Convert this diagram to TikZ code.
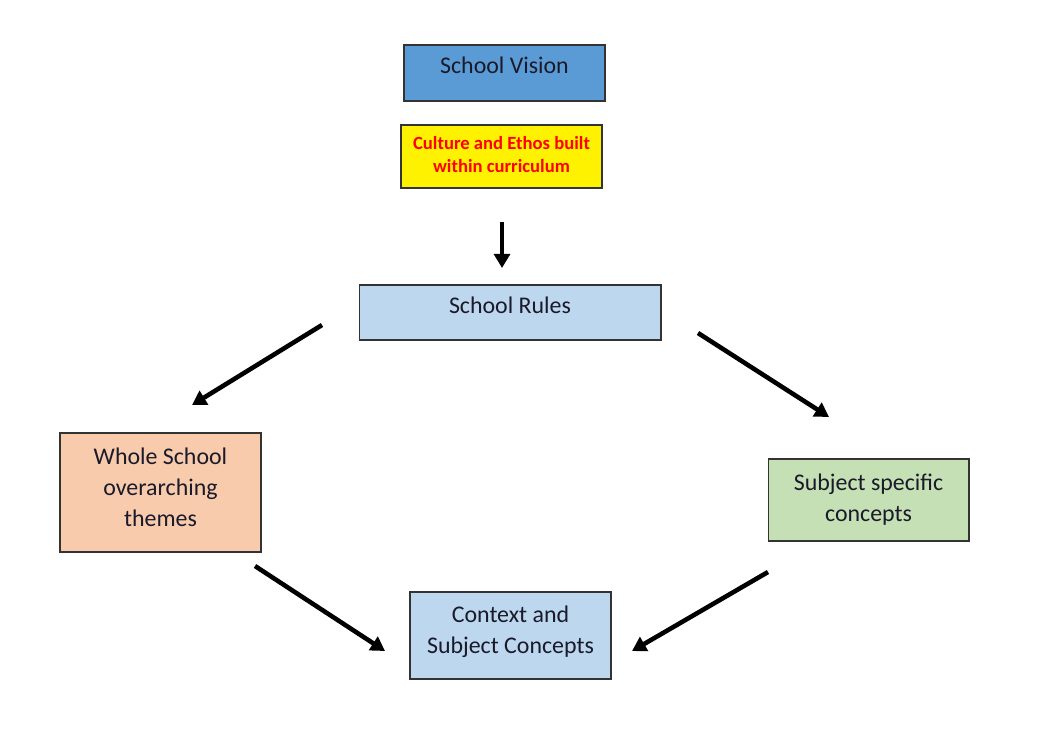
\documentclass[tikz,border=0pt]{standalone}
\usepackage{fontspec}
\setmainfont{Carlito}
\usetikzlibrary{arrows.meta, positioning}

\definecolor{visblue}{HTML}{5B9BD5}
\definecolor{paleblue}{HTML}{BDD7EE}
\definecolor{peach}{HTML}{F8CBAD}
\definecolor{palegreen}{HTML}{C5E0B4}
\definecolor{inktext}{HTML}{1A1A2A}

\begin{document}
\begin{tikzpicture}[
  x=0.02cm, y=-0.02cm,
  box/.style={draw=black!80, line width=0.6pt, align=center, text=inktext,
              font=\fontsize{13.6}{17.6}\selectfont, inner sep=0pt},
  vision/.style={box, fill=visblue, minimum width=4.02cm, minimum height=1.12cm},
  ethos/.style={box, fill=yellow, text=red, minimum width=4.02cm, minimum height=1.26cm,
                font=\fontsize{10.6}{13.6}\selectfont\bfseries},
  rules/.style={box, fill=paleblue, minimum width=6.04cm, minimum height=1.10cm},
  theme/.style={box, fill=peach, minimum width=4.02cm, minimum height=2.38cm},
  subj/.style={box, fill=palegreen, minimum width=4.02cm, minimum height=1.64cm},
  ctx/.style={box, fill=paleblue, minimum width=4.02cm, minimum height=1.74cm},
  arr/.style={-{Triangle[length=8pt, width=9pt]}, line width=2.6pt, black},
]
\useasboundingbox (0,0) rectangle (1047,751);

%% ---- top: vision and ethos ----
\node[vision] (vision) at (504.5,73) {\raisebox{8.4pt}{School Vision}};
\node[ethos] (ethos) at (501.5,156.5) {Culture and Ethos built\\within curriculum\\[-11.3pt]};

%% ---- middle: rules ----
\node[rules] (rules) at (510,312.5) {\raisebox{8.4pt}{School Rules}};

%% ---- sides ----
\node[theme] (themes) at (160.5,492.5) {Whole School\\overarching\\themes\\[-11.4pt]};
\node[subj] (subject) at (868.5,500) {Subject specific\\concepts\\[-14.8pt]};

%% ---- bottom ----
\node[ctx] (context) at (510.5,635.5) {Context and\\Subject Concepts\\[-11.4pt]};

%% ---- arrow ends ----
\coordinate (e1a) at (502,222);  \coordinate (e1b) at (502,268);
\coordinate (e2a) at (322,325);  \coordinate (e2b) at (192,405);
\coordinate (e3a) at (698,333);  \coordinate (e3b) at (829,417);
\coordinate (e4a) at (255,566);  \coordinate (e4b) at (385,651);
\coordinate (e5a) at (768,572);  \coordinate (e5b) at (632,651);

\draw[arr] (e1a) -- (e1b);
\draw[arr] (e2a) -- (e2b);
\draw[arr] (e3a) -- (e3b);
\draw[arr] (e4a) -- (e4b);
\draw[arr] (e5a) -- (e5b);

\end{tikzpicture}
\end{document}
